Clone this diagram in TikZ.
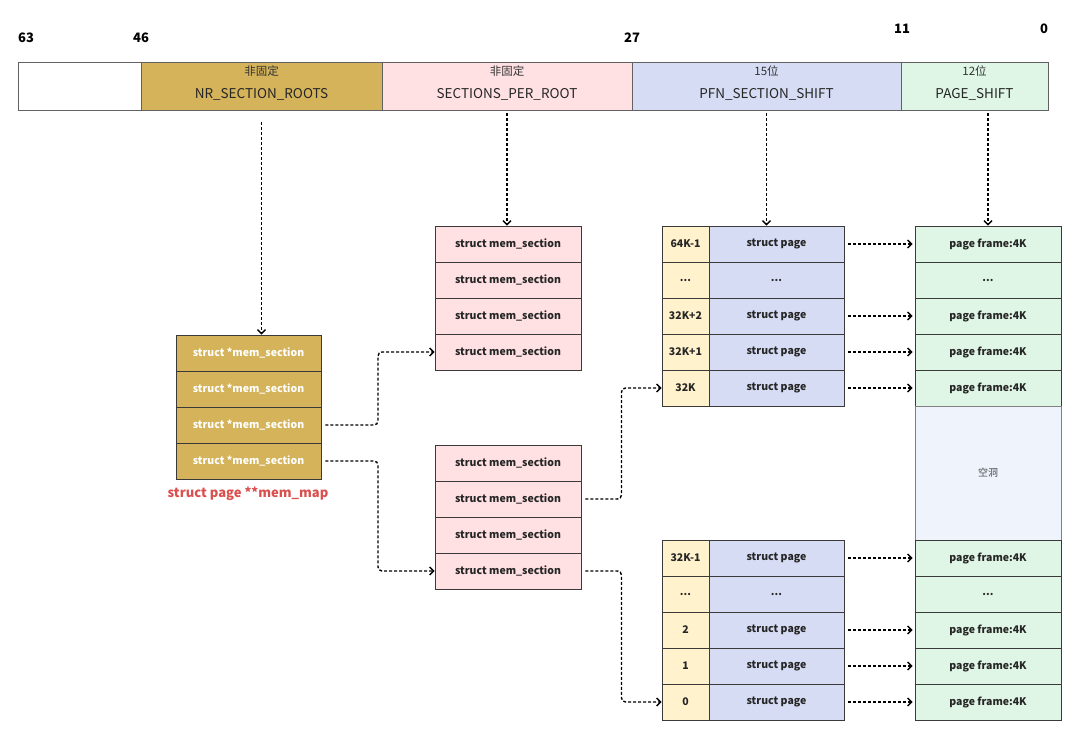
\documentclass[tikz,border=0pt]{standalone}
\usepackage{fontspec}
\setmainfont{Noto Sans CJK SC}
\usetikzlibrary{calc,arrows.meta}

\definecolor{rootgold}{HTML}{D4B35A}
\definecolor{secpink}{HTML}{FFE0E3}
\definecolor{pageblue}{HTML}{D6DCF4}
\definecolor{framegreen}{HTML}{DFF5E5}
\definecolor{idxyellow}{HTML}{FFF2CC}
\definecolor{holeblue}{HTML}{EEF3FC}
\definecolor{cellline}{HTML}{3A3A3A}
\definecolor{mapred}{HTML}{D9504F}

\tikzset{
  seg/.style={draw=cellline!80, line width=0.8pt, minimum height=48pt, inner sep=0pt},
  segsmall/.style={font=\fontsize{11.5}{13}\selectfont, text=black!80},
  segbig/.style={font=\fontsize{13.5}{15}\selectfont, text=black!85},
  bitno/.style={font=\bfseries\fontsize{13}{15}\selectfont},
  cell/.style={draw=cellline, line width=0.8pt, minimum height=36pt, inner sep=0pt,
    font=\bfseries\fontsize{10.5}{12}\selectfont, text=black!85},
  rootcell/.style={cell, fill=rootgold, text=white, minimum width=145pt},
  seccell/.style={cell, fill=secpink, minimum width=146pt},
  idxcell/.style={cell, fill=idxyellow, minimum width=47pt},
  pagecell/.style={cell, fill=pageblue, minimum width=135pt},
  framecell/.style={cell, fill=framegreen, minimum width=146pt},
  link/.style={-{Straight Barb[length=4pt,width=8pt]}, dash pattern=on 3pt off 2pt,
    line width=1.4pt, rounded corners=4pt}
}

\begin{document}
\begin{tikzpicture}[x=1pt,y=-1pt]
  \useasboundingbox (0,0) rectangle (1080,738);

  % bit numbers
  \node[bitno] (b63) at (26,38) {63};
  \node[bitno] (b46) at (141,38) {46};
  \node[bitno] (b27) at (632,38) {27};
  \node[bitno] (b11) at (902,29) {11};
  \node[bitno] (b0) at (1044,29) {0};

  % address bar
  \node[seg, fill=white, minimum width=123pt] (segtop) at (79.5,86) {};
  \node[seg, fill=rootgold, minimum width=241pt] (segroots) at (261.5,86) {};
  \node[seg, fill=secpink, minimum width=250pt] (segper) at (507,86) {};
  \node[seg, fill=pageblue, minimum width=269pt] (segpfn) at (766.5,86) {};
  \node[seg, fill=framegreen, minimum width=147pt] (segpage) at (974.5,86) {};

  \node[segsmall] (tagroots) at (261.5,71) {非固定};
  \node[segbig] (nameroots) at (261.5,94) {NR\_SECTION\_ROOTS};
  \node[segsmall] (tagper) at (507,71) {非固定};
  \node[segbig] (nameper) at (507,94) {SECTIONS\_PER\_ROOT};
  \node[segsmall] (tagpfn) at (766.5,71) {15位};
  \node[segbig] (namepfn) at (766.5,94) {PFN\_SECTION\_SHIFT};
  \node[segsmall] (tagpage) at (974.5,71) {12位};
  \node[segbig] (namepage) at (974.5,94) {PAGE\_SHIFT};

  % mem_section pointer table
  \node[rootcell] (root1) at (248.5,353) {struct *mem\_section};
  \node[rootcell] (root2) at (248.5,389) {struct *mem\_section};
  \node[rootcell] (root3) at (248.5,425) {struct *mem\_section};
  \node[rootcell] (root4) at (248.5,461) {struct *mem\_section};
  \node[font=\bfseries\fontsize{13}{15}\selectfont, text=mapred] (memmap) at (248,494) {struct page **mem\_map};

  % mem_section arrays
  \node[seccell] (sectop1) at (508,244) {struct mem\_section};
  \node[seccell] (sectop2) at (508,280) {struct mem\_section};
  \node[seccell] (sectop3) at (508,316) {struct mem\_section};
  \node[seccell] (sectop4) at (508,352) {struct mem\_section};

  \node[seccell] (secbot1) at (508,463) {struct mem\_section};
  \node[seccell] (secbot2) at (508,499) {struct mem\_section};
  \node[seccell] (secbot3) at (508,535) {struct mem\_section};
  \node[seccell] (secbot4) at (508,571) {struct mem\_section};

  % struct page arrays
  \node[idxcell] (hidx1) at (685.5,244) {64K-1};
  \node[idxcell] (hidx2) at (685.5,280) {...};
  \node[idxcell] (hidx3) at (685.5,316) {32K+2};
  \node[idxcell] (hidx4) at (685.5,352) {32K+1};
  \node[idxcell] (hidx5) at (685.5,388) {32K};
  \node[pagecell] (hpage1) at (776.5,244) {struct page};
  \node[pagecell] (hpage2) at (776.5,280) {...};
  \node[pagecell] (hpage3) at (776.5,316) {struct page};
  \node[pagecell] (hpage4) at (776.5,352) {struct page};
  \node[pagecell] (hpage5) at (776.5,388) {struct page};

  \node[idxcell] (lidx1) at (685.5,558) {32K-1};
  \node[idxcell] (lidx2) at (685.5,594) {...};
  \node[idxcell] (lidx3) at (685.5,630) {2};
  \node[idxcell] (lidx4) at (685.5,666) {1};
  \node[idxcell] (lidx5) at (685.5,702) {0};
  \node[pagecell] (lpage1) at (776.5,558) {struct page};
  \node[pagecell] (lpage2) at (776.5,594) {...};
  \node[pagecell] (lpage3) at (776.5,630) {struct page};
  \node[pagecell] (lpage4) at (776.5,666) {struct page};
  \node[pagecell] (lpage5) at (776.5,702) {struct page};

  % physical page frames
  \node[framecell] (hframe1) at (988,244) {page frame:4K};
  \node[framecell] (hframe2) at (988,280) {...};
  \node[framecell] (hframe3) at (988,316) {page frame:4K};
  \node[framecell] (hframe4) at (988,352) {page frame:4K};
  \node[framecell] (hframe5) at (988,388) {page frame:4K};
  \node[cell, draw=black!50, fill=holeblue, minimum width=146pt, minimum height=134pt,
        font=\fontsize{10}{12}\selectfont, text=black!70] (hole) at (988,473) {空洞};
  \node[framecell] (lframe1) at (988,558) {page frame:4K};
  \node[framecell] (lframe2) at (988,594) {...};
  \node[framecell] (lframe3) at (988,630) {page frame:4K};
  \node[framecell] (lframe4) at (988,666) {page frame:4K};
  \node[framecell] (lframe5) at (988,702) {page frame:4K};

  % address bits to tables
  \draw[link, shorten <=12pt] (segroots.south) -- (segroots.south |- root1.north);
  \draw[link, shorten <=3pt] (segper.south) -- (segper.south |- sectop1.north);
  \draw[link, shorten <=3pt] (segpfn.south) -- (segpfn.south |- hpage1.north);
  \draw[link, shorten <=3pt] (segpage.south -| hframe1.north) -- (hframe1.north);

  % table to table
  \draw[link, shorten <=4pt] (root3.east) -| ($(root3.east)!.5!(sectop4.west)$) |- (sectop4.west);
  \draw[link, shorten <=4pt] (root4.east) -| ($(root4.east)!.5!(secbot4.west)$) |- (secbot4.west);
  \draw[link, shorten <=4pt] (secbot2.east) -| ($(secbot2.east)!.5!(hidx5.west)$) |- (hidx5.west);
  \draw[link, shorten <=4pt] (secbot4.east) -| ($(secbot4.east)!.5!(lidx5.west)$) |- (lidx5.west);

  % struct page to page frame
  \draw[link, shorten <=4pt, shorten >=2pt] (hpage1.east) -- (hframe1.west);
  \draw[link, shorten <=4pt, shorten >=2pt] (hpage3.east) -- (hframe3.west);
  \draw[link, shorten <=4pt, shorten >=2pt] (hpage4.east) -- (hframe4.west);
  \draw[link, shorten <=4pt, shorten >=2pt] (hpage5.east) -- (hframe5.west);
  \draw[link, shorten <=4pt, shorten >=2pt] (lpage1.east) -- (lframe1.west);
  \draw[link, shorten <=4pt, shorten >=2pt] (lpage3.east) -- (lframe3.west);
  \draw[link, shorten <=4pt, shorten >=2pt] (lpage4.east) -- (lframe4.west);
  \draw[link, shorten <=4pt, shorten >=2pt] (lpage5.east) -- (lframe5.west);
\end{tikzpicture}
\end{document}
